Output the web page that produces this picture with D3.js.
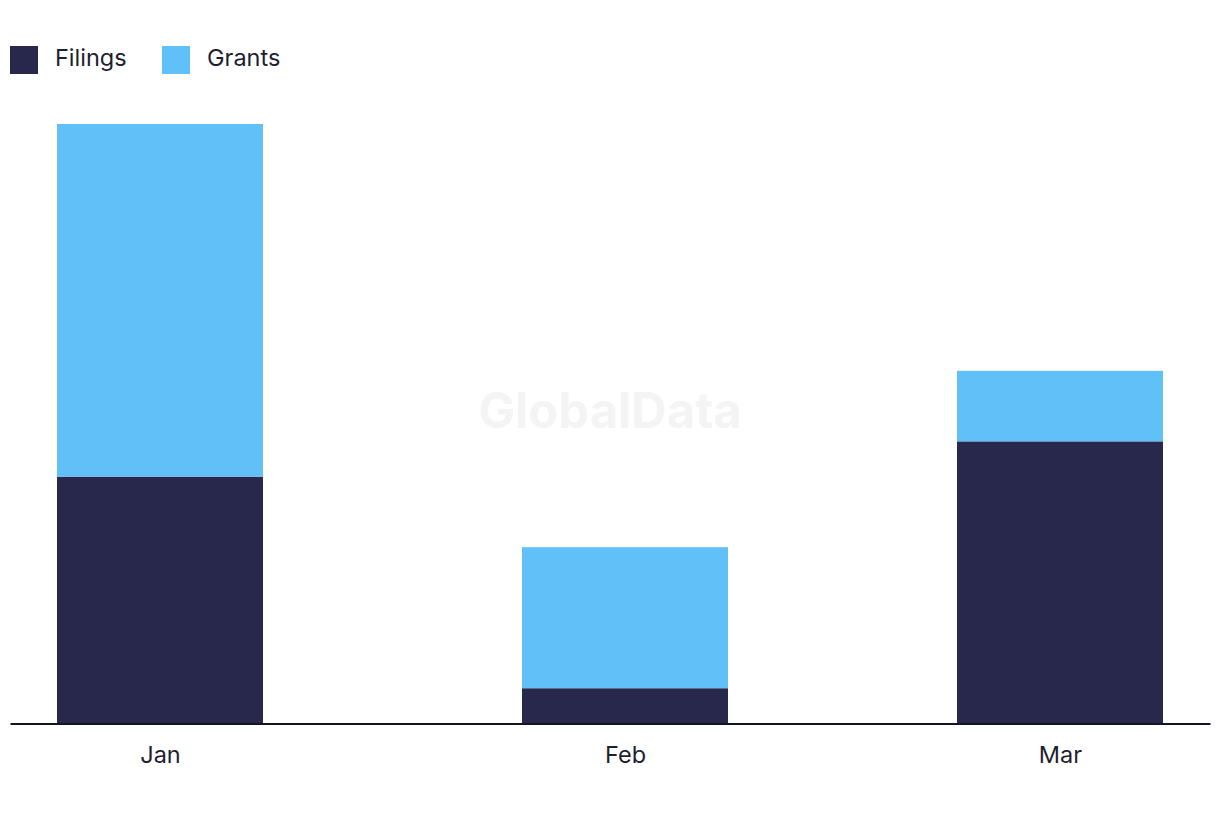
<!DOCTYPE html>
<html><head><meta charset="utf-8">
<script src="https://cdn.jsdelivr.net/npm/d3@7"></script>
<style>body{margin:0;background:#fff;} svg{display:block;font-family:Inter, "Noto Sans", sans-serif;}</style>
</head><body><svg id="c" width="1220" height="822"></svg>
<script>
const months = ["2024-01-01","2024-02-01","2024-03-01"];
const monthLabels = ["Jan","Feb","Mar"];
const filings = [7, 1, 8];
const grants = [10, 4, 2];
const seriesNames = ["Filings","Grants"];
const colors = ["#28284c","#62c0f8"];

const svg = d3.select("#c");
const parse = d3.timeParse("%Y-%m-%d");
const dates = months.map(parse);
const x = d3.scaleTime().domain([parse("2023-12-22"), parse("2024-03-11")]).range([10,1210]);
const y = d3.scaleLinear().domain([0,17]).range([723.5,124]);
const barW = 206;

// watermark
svg.append("text").attr("x",610).attr("y",428).attr("text-anchor","middle")
  .attr("font-size",49).attr("font-weight",700).attr("fill","#f4f4f4").text("GlobalData");

const data = dates.map((d,i)=>({date:d, Filings:filings[i], Grants:grants[i]}));
const stack = d3.stack().keys(seriesNames)(data);
svg.append("g").selectAll("g").data(stack).join("g").attr("fill",(d,i)=>colors[i])
  .selectAll("rect").data(d=>d).join("rect")
  .attr("x",d=>x(d.data.date)-barW/2).attr("width",barW)
  .attr("y",d=>y(d[1])).attr("height",d=>y(d[0])-y(d[1]));

const ax = svg.append("g").attr("transform","translate(0,723.5)")
  .call(d3.axisBottom(x).tickValues(dates).tickSize(0).tickPadding(23).tickFormat((d,i)=>monthLabels[i]));
ax.select(".domain").attr("stroke","#141428").attr("stroke-width",2);
ax.selectAll("text").attr("font-size",23.5).attr("fill","#1e1e30").attr("font-family","Inter, sans-serif");

const leg = svg.append("g");
const lx = [10,162];
seriesNames.forEach((s,i)=>{
  leg.append("rect").attr("x",lx[i]).attr("y",46).attr("width",28).attr("height",28).attr("fill",colors[i]);
  leg.append("text").attr("x",lx[i]+45).attr("y",66).attr("font-size",23.5).attr("fill","#1e1e30").text(s);
});
</script></body></html>
